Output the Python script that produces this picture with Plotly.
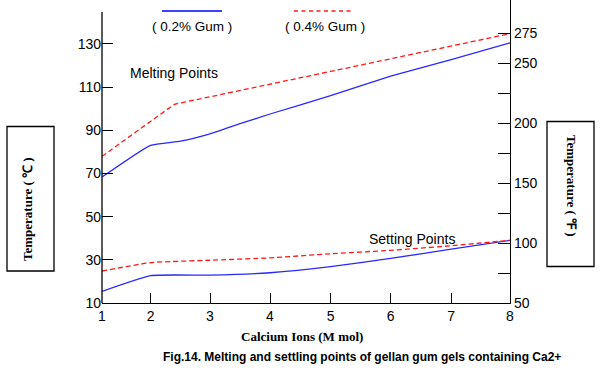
import numpy as np
import plotly.graph_objects as go

# ---------------- data ----------------
calcium_ticks = [1, 2, 3, 4, 5, 6, 7, 8]
# axis position of each calcium tick (the original axis is not uniform between 1 and 2)
calcium_axis_pos = [0, 0.81, 1.8, 2.8, 3.81, 4.81, 5.82, 6.8]

melt_02_x = [1, 2, 2.5, 3, 3.5, 4, 5, 6, 7, 8]
melt_02_y = [68.3, 83.0, 84.9, 88.3, 93.0, 97.5, 106.0, 115.0, 122.7, 130.4]

melt_04_x = [1, 2.4, 5, 8]
melt_04_y = [77.9, 102.0, 117.2, 134.7]

set_02_x = [1, 2, 3, 4, 5, 6, 7, 8]
set_02_y = [15.4, 22.7, 22.9, 24.0, 26.8, 30.7, 34.9, 39.0]

set_04_x = [1, 2, 3, 4, 5, 6, 7, 8]
set_04_y = [24.8, 28.7, 29.8, 30.9, 32.8, 34.4, 36.5, 39.0]

c_ticks = [10, 30, 50, 70, 90, 110, 130]
f_ticks = [50, 75, 100, 125, 150, 175, 200, 225, 250, 275]
f_labels = ["50", "", "100", "", "150", "", "200", "", "250", "275"]

# ---------------- layout constants ----------------
W, H = 606, 370
ML, MR, MT, MB = 102, 96, 0, 67
PW, PH = W - ML - MR, H - MT - MB
C_PER_PX = 1 / 2.16
C_RANGE = [10, 10 + PH * C_PER_PX]
F_RANGE = [C_RANGE[0] * 1.8 + 32, C_RANGE[1] * 1.8 + 32]


def xpos(vals):
    return np.interp(vals, calcium_ticks, calcium_axis_pos)


def px(x):
    return (x - ML) / PW


def py(y):
    return (H - MB - y) / PH


BLUE = "#2828ff"
RED = "#ff1a1a"
SANS = "Liberation Sans, Arial, sans-serif"
SERIF = "Liberation Serif, Times New Roman, serif"

fig = go.Figure()
fig.add_trace(go.Scatter(x=xpos(melt_02_x), y=melt_02_y, mode="lines",
                         line=dict(color=BLUE, width=1.3, shape="spline", smoothing=0.4),
                         showlegend=False))
fig.add_trace(go.Scatter(x=xpos(melt_04_x), y=melt_04_y, mode="lines",
                         line=dict(color=RED, width=1.3, dash="5px,3px"),
                         showlegend=False))
fig.add_trace(go.Scatter(x=xpos(set_02_x), y=set_02_y, mode="lines",
                         line=dict(color=BLUE, width=1.3, shape="spline", smoothing=0.4),
                         showlegend=False))
fig.add_trace(go.Scatter(x=xpos(set_04_x), y=set_04_y, mode="lines",
                         line=dict(color=RED, width=1.3, dash="5px,3px", shape="spline", smoothing=0.4),
                         showlegend=False))
# invisible trace to activate the right axis
fig.add_trace(go.Scatter(x=[0], y=[F_RANGE[0]], yaxis="y2", mode="markers",
                         marker=dict(opacity=0), showlegend=False, hoverinfo="skip"))

fig.update_layout(
    width=W, height=H,
    margin=dict(l=ML, r=MR, t=MT, b=MB, pad=0),
    paper_bgcolor="white", plot_bgcolor="white",
    font=dict(family=SANS, size=14, color="black"),
    xaxis=dict(range=[calcium_axis_pos[0], calcium_axis_pos[-1]],
               tickvals=calcium_axis_pos, ticktext=[str(v) for v in calcium_ticks],
               ticks="inside", ticklen=10, tickwidth=1.3, tickcolor="black",
               showline=True, linecolor="black", linewidth=1.3,
               showgrid=False, zeroline=False, fixedrange=True,
               tickfont=dict(size=14)),
    yaxis=dict(range=C_RANGE, tickvals=c_ticks,
               ticks="inside", ticklen=11, tickwidth=1.3, tickcolor="black",
               showline=False, showgrid=False, zeroline=False,
               tickfont=dict(size=14)),
    yaxis2=dict(range=F_RANGE, overlaying="y", side="right", anchor="x",
                tickvals=f_ticks, ticktext=f_labels,
                ticks="inside", ticklen=12, tickwidth=1.3, tickcolor="black",
                showline=True, linecolor="black", linewidth=1.3,
                showgrid=False, zeroline=False,
                tickfont=dict(size=14)),
)

shapes = []
# left axis line (shorter than the plot area)
shapes.append(dict(type="line", xref="paper", yref="paper",
                   x0=0, x1=0, y0=0, y1=py(12),
                   line=dict(color="black", width=1.3)))
# legend samples
shapes.append(dict(type="line", xref="paper", yref="paper",
                   x0=px(162), x1=px(222), y0=py(11), y1=py(11),
                   line=dict(color="#0000ff", width=1.3)))
shapes.append(dict(type="line", xref="paper", yref="paper",
                   x0=px(294), x1=px(354), y0=py(11), y1=py(11),
                   line=dict(color=RED, width=1.3, dash="4px,3.5px")))
# unit boxes
shapes.append(dict(type="rect", xref="paper", yref="paper",
                   x0=px(7), x1=px(54), y0=py(271), y1=py(126.5),
                   line=dict(color="black", width=1.3)))
shapes.append(dict(type="rect", xref="paper", yref="paper",
                   x0=px(547), x1=px(594), y0=py(266.5), y1=py(121.5),
                   line=dict(color="black", width=1.3)))
fig.update_layout(shapes=shapes)

ann = []


def add_text(text, x, y, size=14, family=SANS, angle=0, bold=False):
    ann.append(dict(text=f"<b>{text}</b>" if bold else text,
                    xref="paper", yref="paper", x=px(x), y=py(y),
                    xanchor="center", yanchor="middle", showarrow=False,
                    textangle=angle, font=dict(size=size, family=family, color="black")))


add_text("( 0.2% Gum )", 192, 26, size=13.5)
add_text("( 0.4% Gum )", 325, 26, size=13.5)
add_text("Melting Points", 174, 73)
add_text("Setting Points", 411.5, 239)
add_text("Calcium Ions (M mol)", 302, 336, size=13, family=SERIF, bold=True)
add_text("Fig.14. Melting and settling points of gellan gum gels containing Ca2+",
         362, 357, size=12, bold=True)
add_text("Temperature ( \u2103 )", 27, 209, size=13, family=SERIF, angle=-90, bold=True)
add_text("Temperature ( \u2109 )", 571.5, 185.5, size=13, family=SERIF, angle=90, bold=True)
fig.update_layout(annotations=ann)

fig.write_html("out.html", config={"displayModeBar": False},
               post_script="document.body.style.margin='0';document.body.style.overflow='hidden';")
